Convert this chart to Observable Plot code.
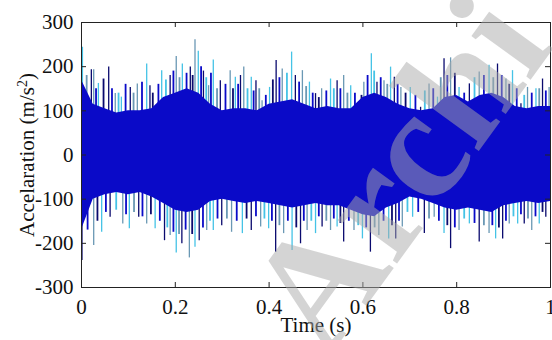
<!DOCTYPE html>
<html><head><meta charset="utf-8">
<script src="https://cdn.jsdelivr.net/npm/d3@7"></script>
<script src="https://cdn.jsdelivr.net/npm/@observablehq/plot@0.6"></script>
<style>html,body{margin:0;padding:0;background:#fff;}</style>
</head><body><div id="chart"></div>
<script>
const xTicks = [0, 0.2, 0.4, 0.6, 0.8, 1];
const yTicks = [-300, -200, -100, 0, 100, 200, 300];

// dense body of the signal (envelope of the solid blue band)
const coreT  = [0,0.025,0.05,0.075,0.1,0.125,0.15,0.175,0.2,0.225,0.25,0.275,0.3,0.325,0.35,0.375,0.4,0.425,0.45,0.475,0.5,0.525,0.55,0.575,0.6,0.625,0.65,0.675,0.7,0.725,0.75,0.775,0.8,0.825,0.85,0.875,0.9,0.925,0.95,0.975,1];
const coreUp = [170,115,105,95,100,100,105,130,140,150,140,115,100,105,105,100,115,120,125,115,105,110,105,105,130,140,130,115,105,100,105,130,135,120,135,140,130,110,105,110,110];
const coreLo = [-170,-100,-90,-85,-90,-85,-95,-110,-125,-130,-125,-105,-100,-105,-110,-105,-110,-115,-120,-115,-110,-115,-115,-125,-135,-140,-120,-110,-95,-100,-110,-120,-125,-120,-125,-130,-115,-110,-105,-110,-105];

// tallest positive peaks
const upT = [0.002,0.021,0.026,0.036,0.058,0.072,0.085,0.104,0.119,0.139,0.146,0.157,0.171,0.189,0.202,0.215,0.232,0.242,0.249,0.260,0.271,0.281,0.296,0.317,0.328,0.339,0.346,0.362,0.372,0.385,0.401,0.415,0.428,0.448,0.456,0.471,0.486,0.499,0.512,0.531,0.545,0.559,0.574,0.591,0.602,0.618,0.630,0.645,0.659,0.667,0.681,0.701,0.723,0.741,0.759,0.773,0.787,0.805,0.827,0.848,0.869,0.887,0.905,0.919,0.937,0.951,0.969,0.983,0.997];
const upV = [244,193,193,162,199,139,131,153,161,206,157,108,191,180,223,206,199,261,235,190,157,215,168,191,176,180,199,176,168,123,153,214,195,233,180,191,165,139,150,172,168,180,157,116,165,229,165,168,199,176,153,153,108,161,131,218,220,153,161,188,203,206,172,191,116,153,150,172,153];
// medium positive peaks between them
const midUpT = [0.011,0.031,0.047,0.065,0.079,0.094,0.111,0.129,0.152,0.164,0.180,0.196,0.209,0.224,0.237,0.255,0.266,0.276,0.289,0.307,0.323,0.334,0.354,0.367,0.379,0.393,0.408,0.422,0.438,0.464,0.479,0.493,0.506,0.522,0.538,0.552,0.567,0.583,0.597,0.610,0.624,0.638,0.652,0.674,0.691,0.712,0.732,0.750,0.766,0.780,0.796,0.816,0.838,0.858,0.878,0.896,0.912,0.928,0.944,0.960,0.976,0.990];
const midUpV = [180,150,172,150,140,160,140,165,140,160,170,190,175,185,180,200,175,185,150,160,150,160,150,145,150,135,170,175,185,165,155,140,130,145,150,150,140,140,135,180,190,175,160,160,140,135,145,150,175,180,185,140,175,180,175,180,160,150,135,140,150,145];

// deepest negative peaks
const loT = [0.001,0.026,0.043,0.061,0.088,0.102,0.122,0.139,0.157,0.177,0.189,0.202,0.214,0.230,0.242,0.251,0.267,0.281,0.299,0.320,0.343,0.362,0.382,0.399,0.414,0.431,0.449,0.467,0.481,0.499,0.513,0.531,0.545,0.559,0.581,0.599,0.616,0.634,0.655,0.670,0.684,0.706,0.731,0.752,0.773,0.787,0.805,0.827,0.848,0.869,0.883,0.898,0.912,0.930,0.944,0.960,0.976,0.990];
const loV = [-239,-205,-175,-141,-156,-167,-141,-156,-167,-194,-182,-222,-201,-233,-209,-194,-171,-171,-160,-175,-178,-171,-163,-167,-220,-178,-216,-201,-171,-178,-163,-171,-163,-197,-171,-190,-220,-182,-190,-190,-163,-141,-178,-141,-178,-212,-171,-156,-197,-178,-190,-190,-156,-156,-156,-171,-156,-141];
// medium negative peaks between them
const midLoT = [0.013,0.034,0.052,0.074,0.095,0.112,0.130,0.148,0.167,0.183,0.196,0.208,0.222,0.236,0.259,0.274,0.290,0.310,0.331,0.352,0.372,0.390,0.406,0.422,0.440,0.458,0.474,0.490,0.506,0.522,0.538,0.552,0.570,0.590,0.607,0.625,0.644,0.662,0.677,0.695,0.718,0.741,0.762,0.780,0.796,0.816,0.838,0.858,0.876,0.890,0.905,0.921,0.937,0.952,0.968,0.983];
const midLoV = [-170,-150,-130,-125,-135,-130,-140,-135,-150,-165,-175,-180,-170,-180,-165,-150,-145,-145,-150,-145,-140,-145,-150,-160,-150,-165,-150,-150,-140,-150,-145,-155,-150,-160,-165,-165,-150,-160,-150,-130,-130,-145,-150,-160,-165,-145,-155,-160,-160,-165,-150,-140,-135,-145,-140,-130];

const bodyBlue = "#0a0ac8";
const spikeColors = ["#45c3e6", "#0a0a6e", "#6a98b4"];
const core = coreT.map((t, i) => ({t, hi: coreUp[i], lo: coreLo[i]}));
const ups = upT.map((t, i) => ({t, v: upV[i], c: spikeColors[i % 3]}));
const los = loT.map((t, i) => ({t, v: loV[i], c: spikeColors[(i + 1) % 3]}));
const midUps = midUpT.map((t, i) => ({t, v: midUpV[i], c: i % 2 ? bodyBlue : spikeColors[(i + 2) % 3]}));
const midLos = midLoT.map((t, i) => ({t, v: midLoV[i], c: i % 2 ? spikeColors[i % 3] : bodyBlue}));

const plot = Plot.plot({
  width: 552, height: 340,
  marginLeft: 81, marginRight: 2, marginTop: 22, marginBottom: 53,
  style: {fontFamily: "'Liberation Serif', 'Times New Roman', serif", fontSize: "21px", color: "#111", background: "#fff", overflow: "hidden"},
  x: {domain: [0, 1]},
  y: {domain: [-300, 300]},
  marks: [
    Plot.ruleX(ups, {x: "t", y1: 0, y2: "v", stroke: "c", strokeWidth: 1.3}),
    Plot.ruleX(los, {x: "t", y1: 0, y2: "v", stroke: "c", strokeWidth: 1.3}),
    Plot.ruleX(midUps, {x: "t", y1: 0, y2: "v", stroke: "c", strokeWidth: 1.8}),
    Plot.ruleX(midLos, {x: "t", y1: 0, y2: "v", stroke: "c", strokeWidth: 1.8}),
    Plot.areaY(core, {x: "t", y1: "lo", y2: "hi", fill: bodyBlue}),
    Plot.ruleX(xTicks, {insetTop: 260, stroke: "#222"}),
    Plot.ruleX(xTicks, {insetBottom: 260, stroke: "#222"}),
    Plot.ruleY(yTicks, {insetLeft: 464, stroke: "#222"}),
    Plot.ruleY(yTicks, {insetRight: 464, stroke: "#222"}),
    Plot.frame({stroke: "#222"}),
    Plot.axisX({ticks: xTicks, tickSize: 0, tickPadding: 12, label: null, fontSize: 21, tickFormat: d => String(d)}),
    Plot.axisY({ticks: yTicks, tickSize: 0, tickPadding: 8, label: null, fontSize: 21, tickFormat: d => String(d)}),
    Plot.text(["Time (s)"], {frameAnchor: "bottom", dy: 44, fontSize: 21}),
    Plot.text(["Accelaration (m/s2)"], {frameAnchor: "left", dx: -54, rotate: -90, fontSize: 21, textAnchor: "middle"}),
    Plot.text(["Archi"], {frameAnchor: "bottom-left", dx: 245, dy: 73, rotate: -54, textAnchor: "start", fontSize: 160, fontWeight: "bold", fill: "#aaaaaa", fillOpacity: 0.5})
  ]
});
document.getElementById("chart").appendChild(plot);

// superscript for the y-axis label
d3.select(plot).selectAll("text").filter(function () { return this.textContent === "Accelaration (m/s2)"; })
  .each(function () {
    const t = d3.select(this).attr("text-anchor", "middle");
    t.text(null);
    t.append("tspan").text("Accelaration (m/s");
    t.append("tspan").attr("baseline-shift", "super").attr("font-size", "14px").text("2");
    t.append("tspan").text(")");
  });
</script>
</body></html>
